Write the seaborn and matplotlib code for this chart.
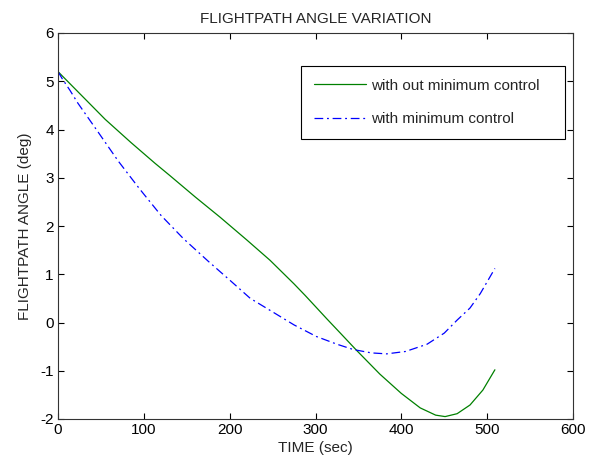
import numpy as np
import pandas as pd
import matplotlib
matplotlib.use("Agg")
import matplotlib.pyplot as plt
import seaborn as sns

# green curve: without minimum control
timeNoCtrl = [0, 25, 55, 85, 113, 130, 160, 189, 220, 247, 275, 288, 300, 313, 330, 348, 375, 400, 422, 440, 451, 465, 480, 495, 509]
angleNoCtrl = [5.2, 4.75, 4.21, 3.73, 3.3, 3.05, 2.6, 2.18, 1.71, 1.29, 0.8, 0.56, 0.33, 0.08, -0.24, -0.58, -1.07, -1.47, -1.77, -1.92, -1.95, -1.89, -1.71, -1.4, -0.98]

# blue curve: with minimum control
timeMinCtrl = [0, 5, 14, 23, 47, 70, 95, 120, 146, 175, 200, 224, 250, 275, 301, 325, 344, 365, 383, 405, 430, 450, 465, 480, 492, 509]
angleMinCtrl = [5.2, 5.05, 4.81, 4.55, 3.94, 3.35, 2.77, 2.22, 1.74, 1.27, 0.88, 0.5, 0.22, -0.05, -0.29, -0.45, -0.56, -0.63, -0.65, -0.6, -0.45, -0.22, 0.05, 0.3, 0.6, 1.12]

xTicks = [0, 100, 200, 300, 400, 500, 600]
yTicks = [-2, -1, 0, 1, 2, 3, 4, 5, 6]

sns.set_style("ticks")
plt.rcParams['font.family'] = ['Liberation Sans', 'DejaVu Sans']
plt.rcParams['axes.unicode_minus'] = False
plt.rcParams['xtick.direction'] = 'in'
plt.rcParams['ytick.direction'] = 'in'
plt.rcParams['xtick.top'] = True
plt.rcParams['ytick.right'] = True

fig = plt.figure(figsize=(5.92, 4.63), dpi=100)
ax = fig.add_axes([58 / 592, 1 - 419 / 463, (573 - 58) / 592, (419 - 33) / 463])

sns.lineplot(x=timeNoCtrl, y=angleNoCtrl, ax=ax, color='#008000', linewidth=0.9,
             label='with out minimum control', sort=False)
sns.lineplot(x=timeMinCtrl, y=angleMinCtrl, ax=ax, color='#0000ff', linewidth=0.9,
             label='with minimum control', sort=False)
ax.lines[1].set_dashes([7, 3, 1.5, 3])

ax.set_xlim(0, 600)
ax.set_ylim(-2, 6)
ax.set_xticks(xTicks)
ax.set_yticks(yTicks)
ax.tick_params(labelsize=11, length=4, width=0.8, colors='black', pad=3)
for s in ax.spines.values():
    s.set_linewidth(0.8)
    s.set_color('#333333')

ax.set_title('FLIGHTPATH ANGLE VARIATION', fontsize=11, pad=7)
ax.set_xlabel('TIME (sec)', fontsize=11, labelpad=3)
ax.set_ylabel('FLIGHTPATH ANGLE (deg)', fontsize=11, labelpad=6)

leg = ax.legend(loc='upper left', bbox_to_anchor=(0.472, 0.915, 0.512, 0.0),
                mode='expand', fontsize=11,
                frameon=True, fancybox=False, edgecolor='black', framealpha=1,
                handlelength=3.4, labelspacing=1.25, borderpad=0.85, handletextpad=0.35,
                borderaxespad=0)
leg.get_frame().set_linewidth(0.8)
leg.legend_handles[1].set_dashes([7, 3, 1.5, 3])

fig.savefig('out.png', dpi=100)
